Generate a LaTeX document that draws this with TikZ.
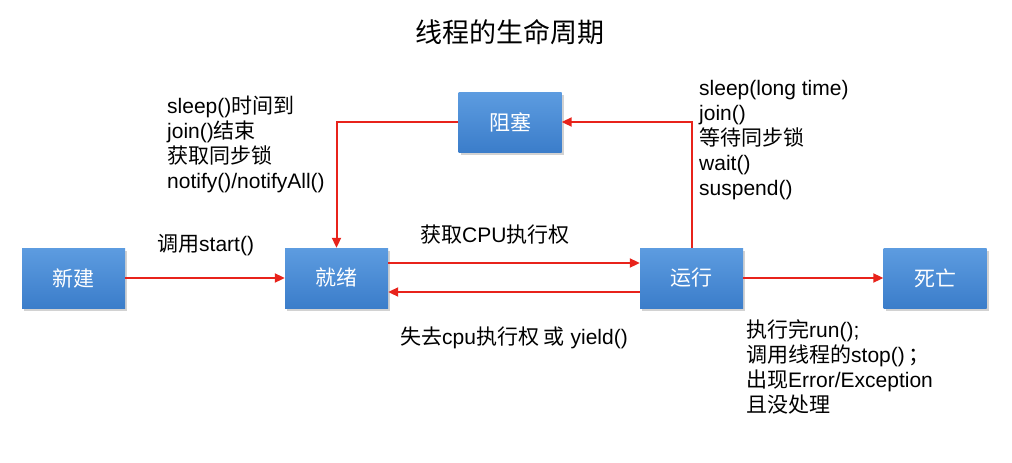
\documentclass[tikz,border=0pt]{standalone}
\usepackage{fontspec}
\setmainfont{Liberation Sans}
\newfontfamily\cjk{Noto Sans CJK SC}
\usetikzlibrary{arrows.meta,shadows}
\definecolor{boxtop}{HTML}{5D9CE0}
\definecolor{boxbot}{HTML}{3B7DCA}
\definecolor{arr}{HTML}{E8231B}
\begin{document}
\begin{tikzpicture}[x=1pt,y=-1pt,
  state/.style={draw=none, minimum width=103pt, minimum height=60pt, inner sep=0pt,
    top color=boxtop, bottom color=boxbot, text=white,
    font=\cjk\fontsize{21}{25}\selectfont,
    drop shadow={shadow xshift=2pt,shadow yshift=-3pt,opacity=0.35}},
  conn/.style={draw=arr, line width=2pt, -{Triangle[length=10pt,width=9pt]}},
  lbl/.style={font=\fontsize{21}{25}\selectfont, inner sep=0pt, align=left}]
\useasboundingbox (0,0) rectangle (1012,463);
\fill[white] (0,0) rectangle (1012,463);

\node[font=\cjk\fontsize{27}{30}\selectfont] (title) at (510,32) {线程的生命周期};

\node[state] (new)   at (73.5,278) {新建};
\node[state] (ready) at (336.5,278) {就绪};
\node[state] (run)   at (691.5,278) {运行};
\node[state] (dead)  at (935,278) {死亡};
\node[state] (block) at (510,122) {阻塞};

\coordinate (r1) at (388,263);
\coordinate (r2) at (640,263);
\coordinate (u1) at (640,292);
\coordinate (u2) at (388,292);

\draw[conn] (new) -- (ready);
\draw[conn] (ready.east |- r1) -- (run.west |- r1);
\draw[conn] (run.west |- u1) -- (ready.east |- u2);
\draw[conn] (run) -- (dead);
\draw[conn] (run.north) |- (block.east);
\draw[conn] (block.west) -| (ready.north);

\node[lbl, anchor=north west] (lready) at (167,96)
  {sleep(){\cjk 时间到}\\join(){\cjk 结束}\\{\cjk 获取同步锁}\\notify()/notifyAll()};
\node[lbl, anchor=west] (lstart) at (157,245) {{\cjk 调用}start()};
\node[lbl, anchor=west] (lcpu) at (420,235) {{\cjk 获取}CPU{\cjk 执行权}};
\node[lbl, anchor=west] (llose) at (400,338) {{\cjk 失去}cpu{\cjk 执行权 或} yield()};
\node[lbl, anchor=north west] (lblock) at (699,80)
  {sleep(long time)\\join()\\{\cjk 等待同步锁}\\wait()\\suspend()};
\node[lbl, anchor=north west] (ldead) at (746,319)
  {{\cjk 执行完}run();\\{\cjk 调用线程的}stop()\,{\cjk ；}\\{\cjk 出现}Error/Exception\\{\cjk 且没处理}};
\end{tikzpicture}
\end{document}
